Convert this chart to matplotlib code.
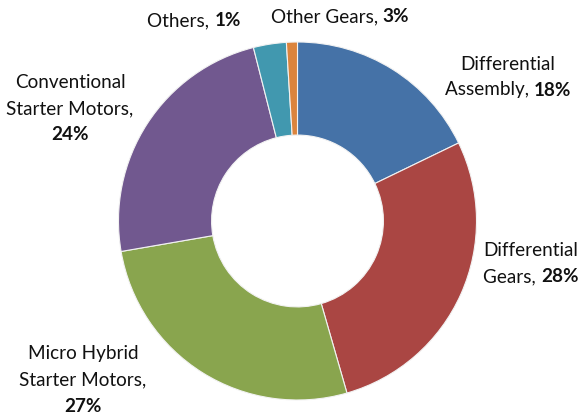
import matplotlib
matplotlib.use("Agg")
import matplotlib.pyplot as plt

categories = ["Differential Assembly", "Differential Gears", "Micro Hybrid Starter Motors",
              "Conventional Starter Motors", "Other Gears", "Others"]
values = [18, 28, 27, 24, 3, 1]
colors = ["#4572A7", "#AA4643", "#89A54E", "#71588F", "#4198AF", "#DB843D"]

plt.rcParams['font.family'] = ['Lato', 'DejaVu Sans']

W, H = 584, 416
fig = plt.figure(figsize=(W / 100, H / 100), dpi=100)
fig.patch.set_facecolor("white")

cx, cy, r = 297.5, 221, 179
ax = fig.add_axes([(cx - r) / W, (H - cy - r) / H, 2 * r / W, 2 * r / H])
ax.pie(values, colors=colors, startangle=90, counterclock=False, radius=1,
       wedgeprops=dict(width=0.52, edgecolor="#f2f2f2", linewidth=0.8))
ax.set_xlim(-1, 1)
ax.set_ylim(-1, 1)
ax.set_aspect("equal")
ax.axis("off")

# label text positions (pixel centres) matching the reference layout
label_pos = {
    "Differential Assembly": (508, 77, "Differential\nAssembly, "),
    "Differential Gears": (531, 264, "Differential\nGears, "),
    "Micro Hybrid Starter Motors": (83, 380, "Micro Hybrid\nStarter Motors,\n"),
    "Conventional Starter Motors": (70, 109, "Conventional\nStarter Motors,\n"),
    "Other Gears": (340, 17, "Other Gears, "),
    "Others": (194, 21, "Others, "),
}

fs = 13.6
for cat, val in zip(categories, values):
    x, y, txt = label_pos[cat]
    lines = txt.split("\n")
    n = len(lines)
    lh = 26
    y0 = y - (n - 1) * lh / 2
    for i, line in enumerate(lines):
        yy = y0 + i * lh
        if i == n - 1:
            # last line: regular part + bold percentage
            pct = f"{val}%"
            if line == "":
                fig.text(x / W, 1 - yy / H, pct, ha="center", va="center",
                         fontsize=fs, fontweight="bold", color="#111111")
            else:
                t1 = fig.text(0, 0, line, fontsize=fs)
                t2 = fig.text(0, 0, pct, fontsize=fs, fontweight="bold")
                fig.canvas.draw()
                r_ = fig.canvas.get_renderer()
                w1 = t1.get_window_extent(r_).width
                w2 = t2.get_window_extent(r_).width
                t1.remove(); t2.remove()
                left = x - (w1 + w2) / 2
                fig.text(left / W, 1 - yy / H, line, ha="left", va="center",
                         fontsize=fs, color="#111111")
                fig.text((left + w1) / W, 1 - yy / H, pct, ha="left", va="center",
                         fontsize=fs, fontweight="bold", color="#111111")
        else:
            fig.text(x / W, 1 - yy / H, line, ha="center", va="center",
                     fontsize=fs, color="#111111")

fig.savefig("out.png", dpi=100, facecolor="white")
